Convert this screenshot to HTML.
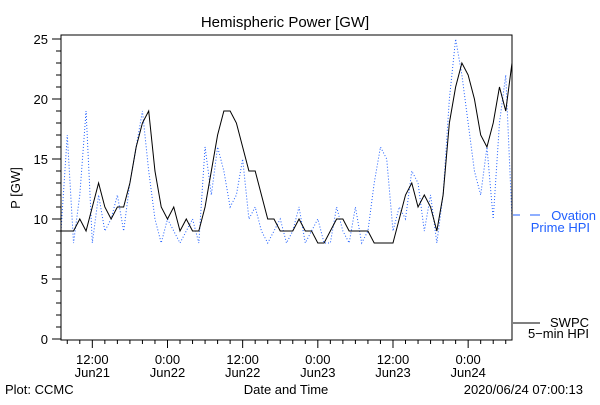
<!DOCTYPE html>
<html><head><meta charset="utf-8"><style>
body{margin:0;background:#fff}
svg text{font-family:"Liberation Sans",sans-serif;font-size:13px}
</style></head><body>
<svg id="chart" width="600" height="400" viewBox="0 0 600 400" xmlns="http://www.w3.org/2000/svg">
<rect width="600" height="400" fill="#fff"/>
<text x="285" y="27" text-anchor="middle" style="font-size:15px">Hemispheric Power [GW]</text>
<text x="20" y="188" text-anchor="middle" transform="rotate(-90 20 188)">P [GW]</text>
<text x="286" y="394" text-anchor="middle">Date and Time</text>
<text x="5" y="394">Plot: CCMC</text>
<text x="583" y="394" text-anchor="end">2020/06/24 07:00:13</text>
<g id="ticks"></g>
<g id="series"></g>
<rect x="61" y="35" width="451" height="305" fill="none" stroke="#000" stroke-width="1"/>
<line x1="513" y1="215" x2="520" y2="215" stroke="#1f5fff"/>
<line x1="530" y1="215" x2="540" y2="215" stroke="#1f5fff"/>
<text x="596" y="220" text-anchor="end" fill="#1f5fff">Ovation</text>
<text x="590" y="232" text-anchor="end" fill="#1f5fff">Prime HPI</text>
<line x1="513" y1="323" x2="540" y2="323" stroke="#000"/>
<text x="589" y="327" text-anchor="end">SWPC</text>
<text x="589" y="338" text-anchor="end">5−min HPI</text>
</svg>
<script>
const hours = Array.from({length:73},(_, i)=>i);
const swpcValues = [9,9,9,10,9,11,13,11,10,11,11,13,16,18,19,14,11,10,11,9,10,9,9,11,14,17,19,19,18,16,14,14,12,10,10,9,9,9,10,9,9,8,8,9,10,10,9,9,9,9,8,8,8,8,10,12,13,11,12,11,9,12,18,21,23,22,20,17,16,18,21,19,23];
const ovationValues = [9,17,8,12,19,8,12,9,10,12,9,13,16,19,14,10,8,10,9,8,9,10,8,16,12,16,14,11,12,15,10,11,9,8,9,10,8,9,11,8,9,10,8,8,11,9,8,11,8,9,13,16,15,9,11,10,14,13,9,12,8,12,20,25,22,18,14,12,16,10,18,22,10];
const yTickLabels = [0,5,10,15,20,25];
const xTickHours = [5,17,29,41,53,65];
const xTickLabels = [["12:00","Jun21"],["0:00","Jun22"],["12:00","Jun22"],["0:00","Jun23"],["12:00","Jun23"],["0:00","Jun24"]];
const NS="http://www.w3.org/2000/svg";
const X0=61,X1=512,Ybot=339,ppu=12,H=72;
function xS(h){return X0+(X1-X0)*h/H;}
function yS(v){return Ybot-v*ppu;}
const tg=document.getElementById('ticks'), sg=document.getElementById('series');
for(let v=0;v<=25;v++){
  const l=document.createElementNS(NS,'line');
  
  
  const len=v%5===0?9:5;
  l.setAttribute('x1',61-len);l.setAttribute('x2',61);l.setAttribute('y1',yS(v));l.setAttribute('y2',yS(v));l.setAttribute('stroke','#000');
  tg.appendChild(l);
}
yTickLabels.forEach(v=>{
  const t=document.createElementNS(NS,'text');
  
  
  t.setAttribute('x',48);t.setAttribute('y',yS(v)+5);t.setAttribute('text-anchor','end');t.textContent=v;tg.appendChild(t);
});
for(let h=1;h<H;h+=2){
  const l=document.createElementNS(NS,'line');
  
  
  const major=xTickHours.includes(h);
  l.setAttribute('x1',xS(h));l.setAttribute('x2',xS(h));l.setAttribute('y1',340);l.setAttribute('y2',major?348:344);l.setAttribute('stroke','#000');
  tg.appendChild(l);
}
xTickHours.forEach((h,i)=>{
  xTickLabels[i].forEach((s,j)=>{
    const t=document.createElementNS(NS,'text');
    
    
    t.setAttribute('x',xS(h));t.setAttribute('y',364+j*13);t.setAttribute('text-anchor','middle');t.textContent=s;tg.appendChild(t);
  });
});
function linePath(vals){
  let d='';vals.forEach((v,i)=>{d+=(i?' L':'M')+xS(hours[i])+','+yS(v);});
  return d;
}
const ov=document.createElementNS(NS,'path');


ov.setAttribute('d',linePath(ovationValues));ov.setAttribute('fill','none');ov.setAttribute('stroke','#1f5fff');ov.setAttribute('stroke-dasharray','1,2');
sg.appendChild(ov);
const sw=document.createElementNS(NS,'path');


sw.setAttribute('d',linePath(swpcValues));sw.setAttribute('fill','none');sw.setAttribute('stroke','#000');sw.setAttribute('stroke-width','1');
sg.appendChild(sw);
</script>
</body></html>
